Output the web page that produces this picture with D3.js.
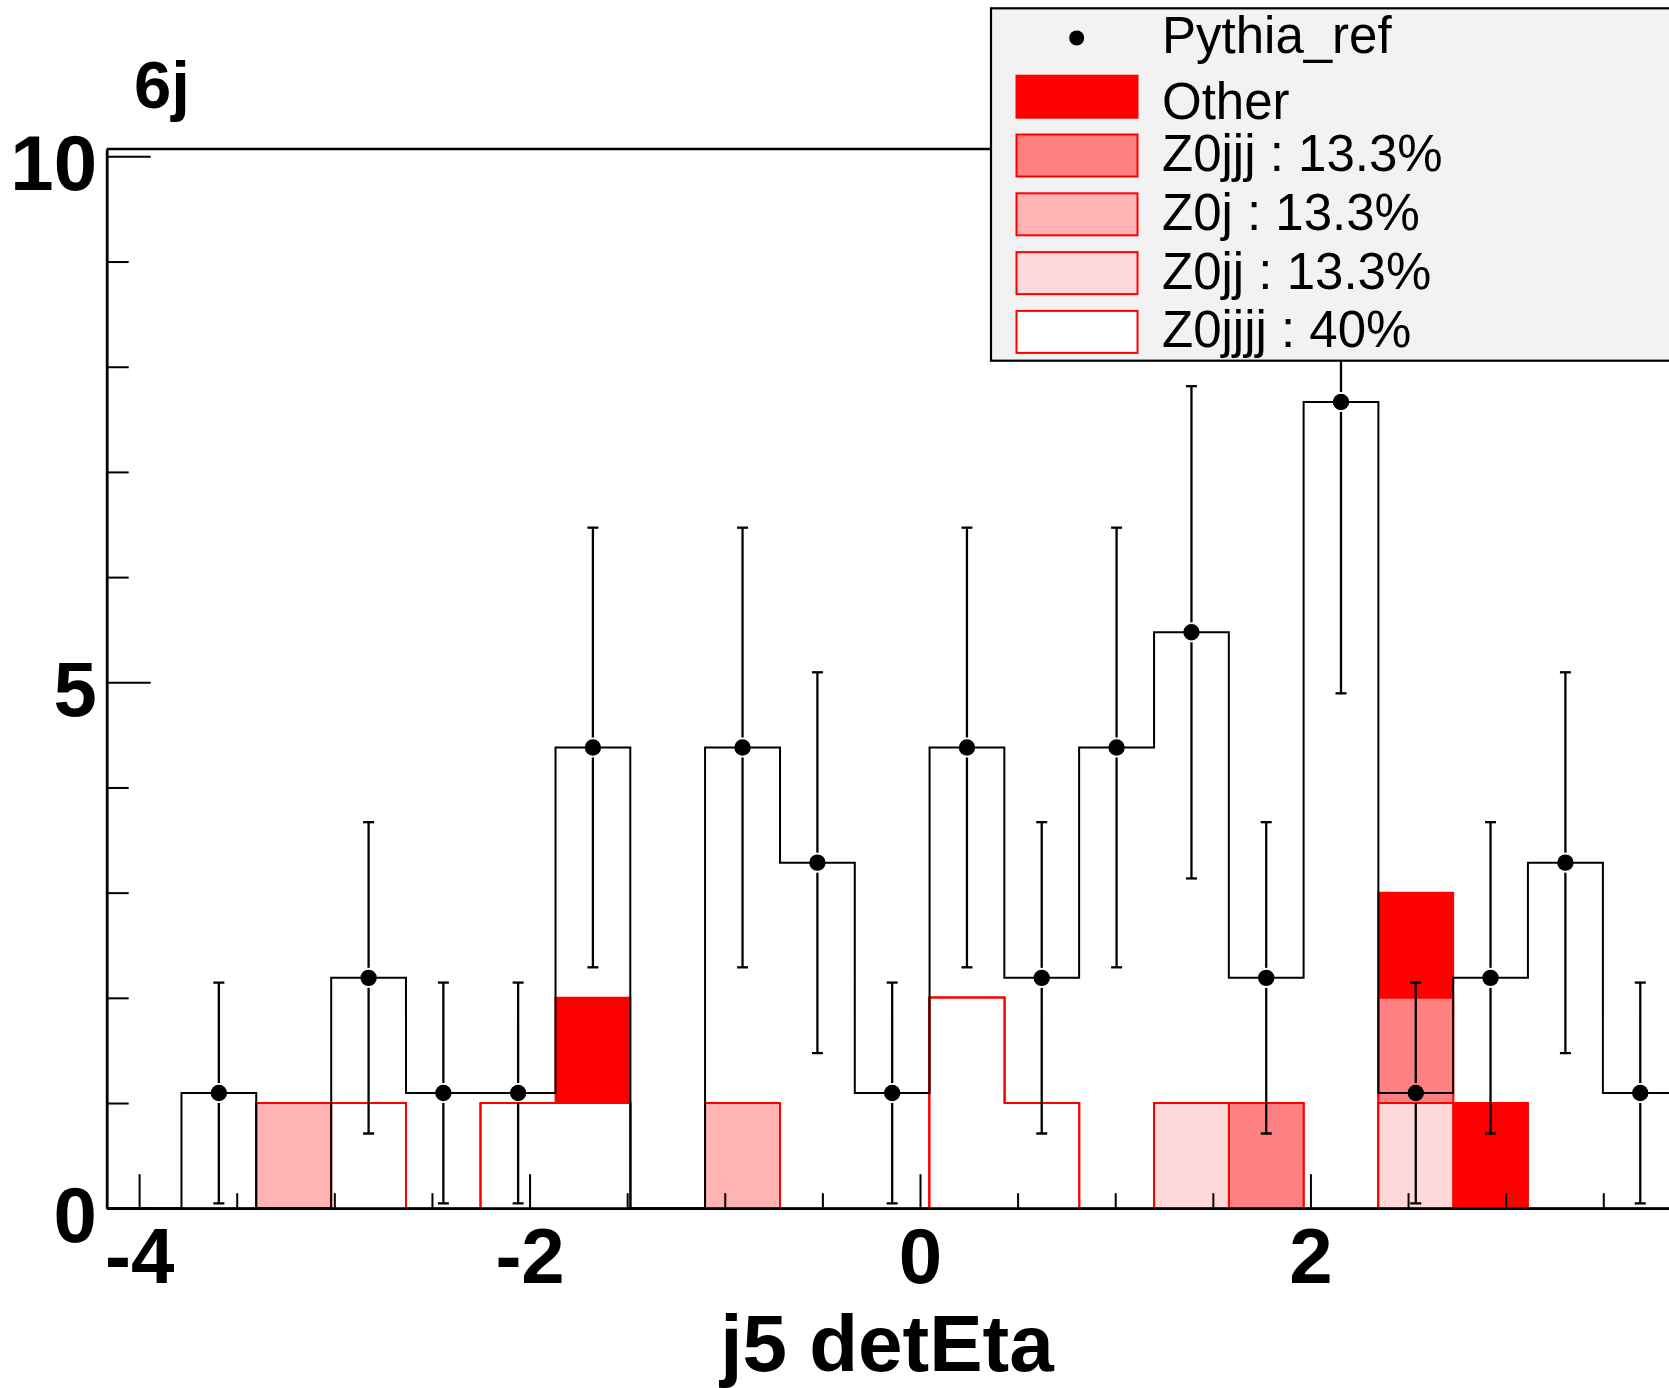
<!DOCTYPE html>
<html><head><meta charset="utf-8">
<script src="https://cdn.jsdelivr.net/npm/d3@7"></script>
<style>html,body{margin:0;padding:0;background:#fff;overflow:hidden;} svg{display:block;}</style>
</head><body>
<svg id="c" width="1669" height="1388"></svg>
<script>
// ---- data ----
const binEdges = [-4.166, -3.783, -3.400, -3.016, -2.633, -2.250, -1.867, -1.484, -1.101, -0.717,
                  -0.334, 0.049, 0.432, 0.815, 1.199, 1.582, 1.965, 2.348, 2.731, 3.114, 3.498, 3.881];
const dataValues = [0, 1.095, 0, 2.19, 1.095, 1.095, 4.38, 0, 4.38, 3.285, 1.095,
                    4.38, 2.19, 4.38, 5.475, 2.19, 7.665, 1.095, 2.19, 3.285, 1.095];
const dataErrors = [0, 1.05, 0, 1.48, 1.05, 1.05, 2.09, 0, 2.09, 1.81, 1.05,
                    2.09, 1.48, 2.09, 2.34, 1.48, 2.77, 1.05, 1.48, 1.81, 1.05];
const mcZ0jjjj = [0,0,0,1,0,1,1,0,0,0,0,2,1,0,0,0,0,0,0,0,0];
const mcZ0jj   = [0,0,0,0,0,0,0,0,0,0,0,0,0,0,1,0,0,1,0,0,0];
const mcZ0j    = [0,0,1,0,0,0,0,0,1,0,0,0,0,0,0,0,0,0,0,0,0];
const mcZ0jjj  = [0,0,0,0,0,0,0,0,0,0,0,0,0,0,0,1,0,1,0,0,0];
const mcOther  = [0,0,0,0,0,0,1,0,0,0,0,0,0,0,0,0,0,1,1,0,0];
const stackNames = ["Z0jjjj", "Z0jj", "Z0j", "Z0jjj", "Other"]; // bottom -> top
const stackSeries = [mcZ0jjjj, mcZ0jj, mcZ0j, mcZ0jjj, mcOther];
const stackColors = ["#ffffff", "#ffd9d9", "#ffb3b3", "#ff8080", "#ff0000"];
const legendLabels = ["Pythia_ref", "Other", "Z0jjj : 13.3%", "Z0j : 13.3%", "Z0jj : 13.3%", "Z0jjjj : 40%"];
const legendColors = [null, "#ff0000", "#ff8080", "#ffb3b3", "#ffd9d9", "#ffffff"];
const xMajorTicks = [-4, -2, 0, 2];
const xTickLabels = ["-4", "-2", "0", "2"];
const xMinorTicks = [-3.5, -3, -2.5, -1.5, -1, -0.5, 0.5, 1, 1.5, 2.5, 3, 3.5];
const yMajorTicks = [0, 5, 10];
const yTickLabels = ["0", "5", "10"];
const yMinorTicks = [1, 2, 3, 4, 6, 7, 8, 9];
const xTitle = "j5 detEta";
const panelLabel = "6j";

// ---- drawing ----
const FONT = "'Liberation Sans', Arial, Helvetica, sans-serif";
const svg = d3.select("#c");
svg.append("rect").attr("width", 1669).attr("height", 1388).attr("fill", "#fff");

const x = d3.scaleLinear().domain([-4.166, 4.166]).range([106.7, 1733.3]);
const y = d3.scaleLinear().domain([0, 10.07]).range([1208.2, 149]);

svg.append("defs").append("clipPath").attr("id", "plot")
  .append("rect").attr("x", x.range()[0]).attr("y", y.range()[1])
  .attr("width", x.range()[1] - x.range()[0]).attr("height", y.range()[0] - y.range()[1]);

const plot = svg.append("g").attr("clip-path", "url(#plot)");

// cumulative stacks
const nb = dataValues.length;
const cum = [];
stackSeries.forEach((s, k) => {
  cum.push(s.map((v, i) => v + (k > 0 ? cum[k - 1][i] : 0)));
});
const stepPts = vals => binEdges.map((e, i) => [e, vals[Math.min(i, vals.length - 1)]]);
const area = d3.area().curve(d3.curveStepAfter).x(d => x(d[0])).y0(y(0)).y1(d => y(d[1]));
for (let k = cum.length - 1; k >= 0; k--) {
  plot.append("path").attr("d", area(stepPts(cum[k])))
    .attr("fill", stackColors[k]).attr("stroke", "#ff0000").attr("stroke-width", 2);
}

// data histogram outline
const line = d3.line().curve(d3.curveStepAfter).x(d => x(d[0])).y(d => y(d[1]));
plot.append("path").attr("d", line(stepPts(dataValues)))
  .attr("fill", "none").attr("stroke", "#000").attr("stroke-width", 2);

// error bars + markers
const gap = 10, cap = 5.5, r = 8.2;
dataValues.forEach((v, i) => {
  if (v <= 0) return;
  const cx = x((binEdges[i] + binEdges[i + 1]) / 2), cy = y(v);
  const yt = y(v + dataErrors[i]), yb = y(v - dataErrors[i]);
  const g = plot.append("g").attr("stroke", "#000").attr("stroke-width", 2.3);
  g.append("line").attr("x1", cx).attr("x2", cx).attr("y1", cy - gap).attr("y2", yt);
  g.append("line").attr("x1", cx).attr("x2", cx).attr("y1", cy + gap).attr("y2", yb);
  g.append("line").attr("x1", cx - cap).attr("x2", cx + cap).attr("y1", yt).attr("y2", yt);
  g.append("line").attr("x1", cx - cap).attr("x2", cx + cap).attr("y1", yb).attr("y2", yb);
  plot.append("circle").attr("cx", cx).attr("cy", cy).attr("r", r).attr("fill", "#000");
});

// axes
const gx = svg.append("g").attr("transform", `translate(0,${y(0)})`);
gx.append("g").call(d3.axisBottom(x).tickValues(xMinorTicks).tickSize(-15).tickFormat(""))
  .call(g => g.select(".domain").remove());
gx.append("g").call(d3.axisBottom(x).tickValues(xMajorTicks).tickSizeInner(-34).tickSizeOuter(0)
  .tickFormat((d, i) => xTickLabels[i]))
  .call(g => g.select(".domain").attr("stroke-width", 2.5));
gx.selectAll("line").attr("stroke-width", 2);
gx.selectAll("text").attr("y", 75).attr("dy", null)
  .attr("font-family", FONT).attr("font-weight", "bold").attr("font-size", 78).attr("fill", "#000");

const gy = svg.append("g").attr("transform", `translate(${x.range()[0]},0)`);
gy.append("g").call(d3.axisLeft(y).tickValues(yMinorTicks).tickSize(-22).tickFormat(""))
  .call(g => g.select(".domain").remove());
gy.append("g").call(d3.axisLeft(y).tickValues(yMajorTicks).tickSizeInner(-44).tickSizeOuter(0)
  .tickFormat((d, i) => yTickLabels[i]))
  .call(g => g.select(".domain").attr("stroke-width", 2.8));
gy.selectAll("line").attr("stroke-width", 2);
gy.selectAll("text").attr("x", -9.7).attr("y", 33).attr("dy", null)
  .attr("font-family", FONT).attr("font-weight", "bold").attr("font-size", 78).attr("fill", "#000");

// top frame line
svg.append("line").attr("x1", x.range()[0]).attr("x2", x.range()[1])
  .attr("y1", y.range()[1]).attr("y2", y.range()[1]).attr("stroke", "#000").attr("stroke-width", 2.5);

// titles
svg.append("text").attr("x", 887).attr("y", 1371).attr("text-anchor", "middle")
  .attr("font-family", FONT).attr("font-weight", "bold").attr("font-size", 80).text(xTitle);
svg.append("text").attr("x", 134).attr("y", 108)
  .attr("font-family", FONT).attr("font-weight", "bold").attr("font-size", 67).text(panelLabel);

// legend
const leg = svg.append("g");
leg.append("rect").attr("x", 991).attr("y", 8.3).attr("width", 800).attr("height", 352.4)
  .attr("fill", "#f2f2f2").attr("stroke", "#000").attr("stroke-width", 2.2);
legendLabels.forEach((lab, i) => {
  const cy = 37.9 + i * 58.8;
  if (i === 0) {
    leg.append("circle").attr("cx", 1076.7).attr("cy", cy).attr("r", 7.5).attr("fill", "#000");
  } else {
    leg.append("rect").attr("x", 1016.5).attr("y", cy - 21).attr("width", 121).attr("height", 42)
      .attr("fill", legendColors[i]).attr("stroke", "#ff0000").attr("stroke-width", 2);
  }
  const hasDesc = /[jyp_]/.test(lab);
  leg.append("text").attr("x", 1162).attr("y", cy + (hasDesc ? 15.5 : 22))
    .attr("font-family", FONT).attr("font-size", 51).attr("fill", "#000").text(lab);
});
</script>
</body></html>
